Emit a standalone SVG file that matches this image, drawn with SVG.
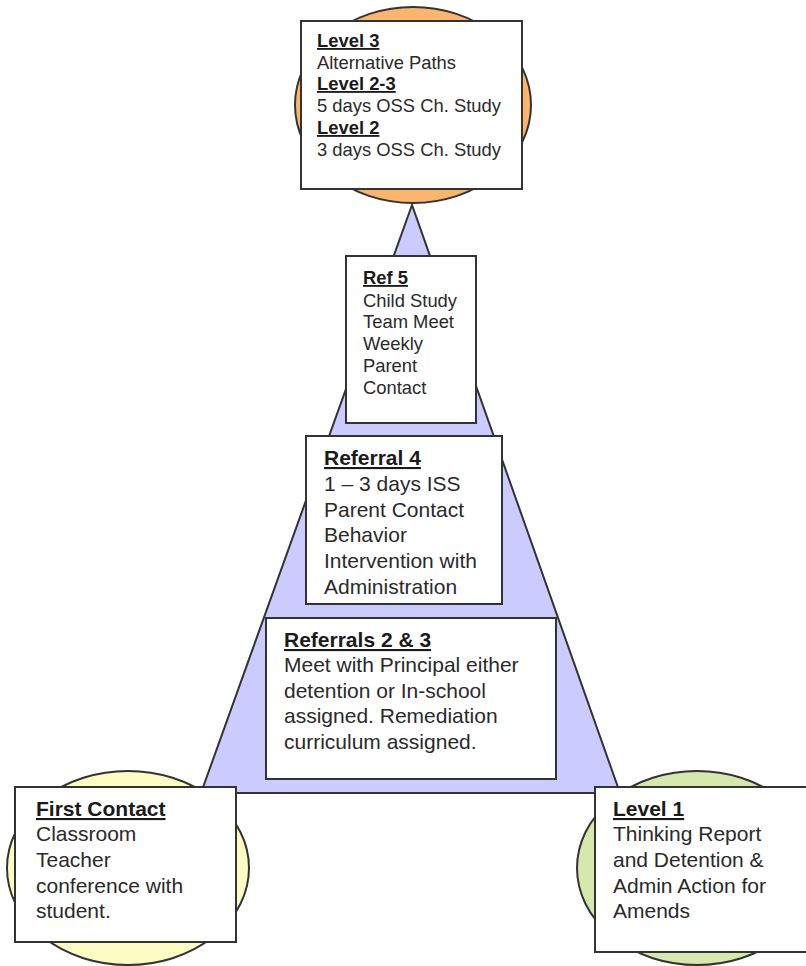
<svg xmlns="http://www.w3.org/2000/svg" width="806" height="966" viewBox="0 0 806 966">
<style>
.box{fill:#ffffff;stroke:#333333;stroke-width:2}
.shape{stroke:#333333;stroke-width:2}
text{font-family:"Liberation Sans",Arial,sans-serif;fill:#2a2a2a}
.big{font-size:21px}
.small{font-size:18.4px}
.t{font-weight:bold;text-decoration:underline;fill:#1a1a1a}
</style>
<rect width="806" height="966" fill="#ffffff"/>
<g id="pyramid">
<polygon class="shape" points="412,205 201,793 620,793" fill="#cbcbff"/>
</g>
<g id="connectors"></g>
<g id="level3">
<ellipse class="shape" cx="413" cy="105" rx="118" ry="98" fill="#fdb56d"/>
<rect class="box" x="301" y="21" width="221" height="168"/>
<text class="small" x="317"><tspan class="t" x="317" y="47">Level 3</tspan><tspan x="317" y="69">Alternative Paths</tspan><tspan class="t" x="317" y="90">Level 2-3</tspan><tspan x="317" y="112">5 days OSS Ch. Study</tspan><tspan class="t" x="317" y="134">Level 2</tspan><tspan x="317" y="156">3 days OSS Ch. Study</tspan></text>
</g>
<g id="ref5">
<rect class="box" x="346" y="256" width="130" height="167"/>
<text class="small"><tspan class="t" x="363" y="284">Ref 5</tspan><tspan x="363" y="307">Child Study</tspan><tspan x="363" y="328">Team Meet</tspan><tspan x="363" y="350">Weekly</tspan><tspan x="363" y="372">Parent</tspan><tspan x="363" y="394">Contact</tspan></text>
</g>
<g id="referral4">
<rect class="box" x="306" y="436" width="196" height="168"/>
<text class="big"><tspan class="t" x="324" y="465">Referral 4</tspan><tspan x="324" y="491">1 – 3 days ISS</tspan><tspan x="324" y="517">Parent Contact</tspan><tspan x="324" y="542">Behavior</tspan><tspan x="324" y="568">Intervention with</tspan><tspan x="324" y="594">Administration</tspan></text>
</g>
<g id="referrals23">
<rect class="box" x="266" y="618" width="290" height="161"/>
<text class="big"><tspan class="t" x="284" y="647">Referrals 2 &amp; 3</tspan><tspan x="284" y="672">Meet with Principal either</tspan><tspan x="284" y="698">detention or In-school</tspan><tspan x="284" y="723">assigned. Remediation</tspan><tspan x="284" y="749">curriculum assigned.</tspan></text>
</g>
<g id="firstcontact">
<ellipse class="shape" cx="128" cy="868" rx="121" ry="97" fill="#fdfcc3"/>
<rect class="box" x="15" y="787" width="221" height="155"/>
<text class="big"><tspan class="t" x="36" y="816">First Contact</tspan><tspan x="36" y="841">Classroom</tspan><tspan x="36" y="867">Teacher</tspan><tspan x="36" y="893">conference with</tspan><tspan x="36" y="918">student.</tspan></text>
</g>
<g id="level1">
<ellipse class="shape" cx="697" cy="868" rx="120" ry="97" fill="#d6e8ad"/>
<rect class="box" x="595" y="787" width="215" height="165"/>
<text class="big"><tspan class="t" x="613" y="816">Level 1</tspan><tspan x="613" y="841">Thinking Report</tspan><tspan x="613" y="867">and Detention &amp;</tspan><tspan x="613" y="893">Admin Action for</tspan><tspan x="613" y="918">Amends</tspan></text>
</g>
</svg>
